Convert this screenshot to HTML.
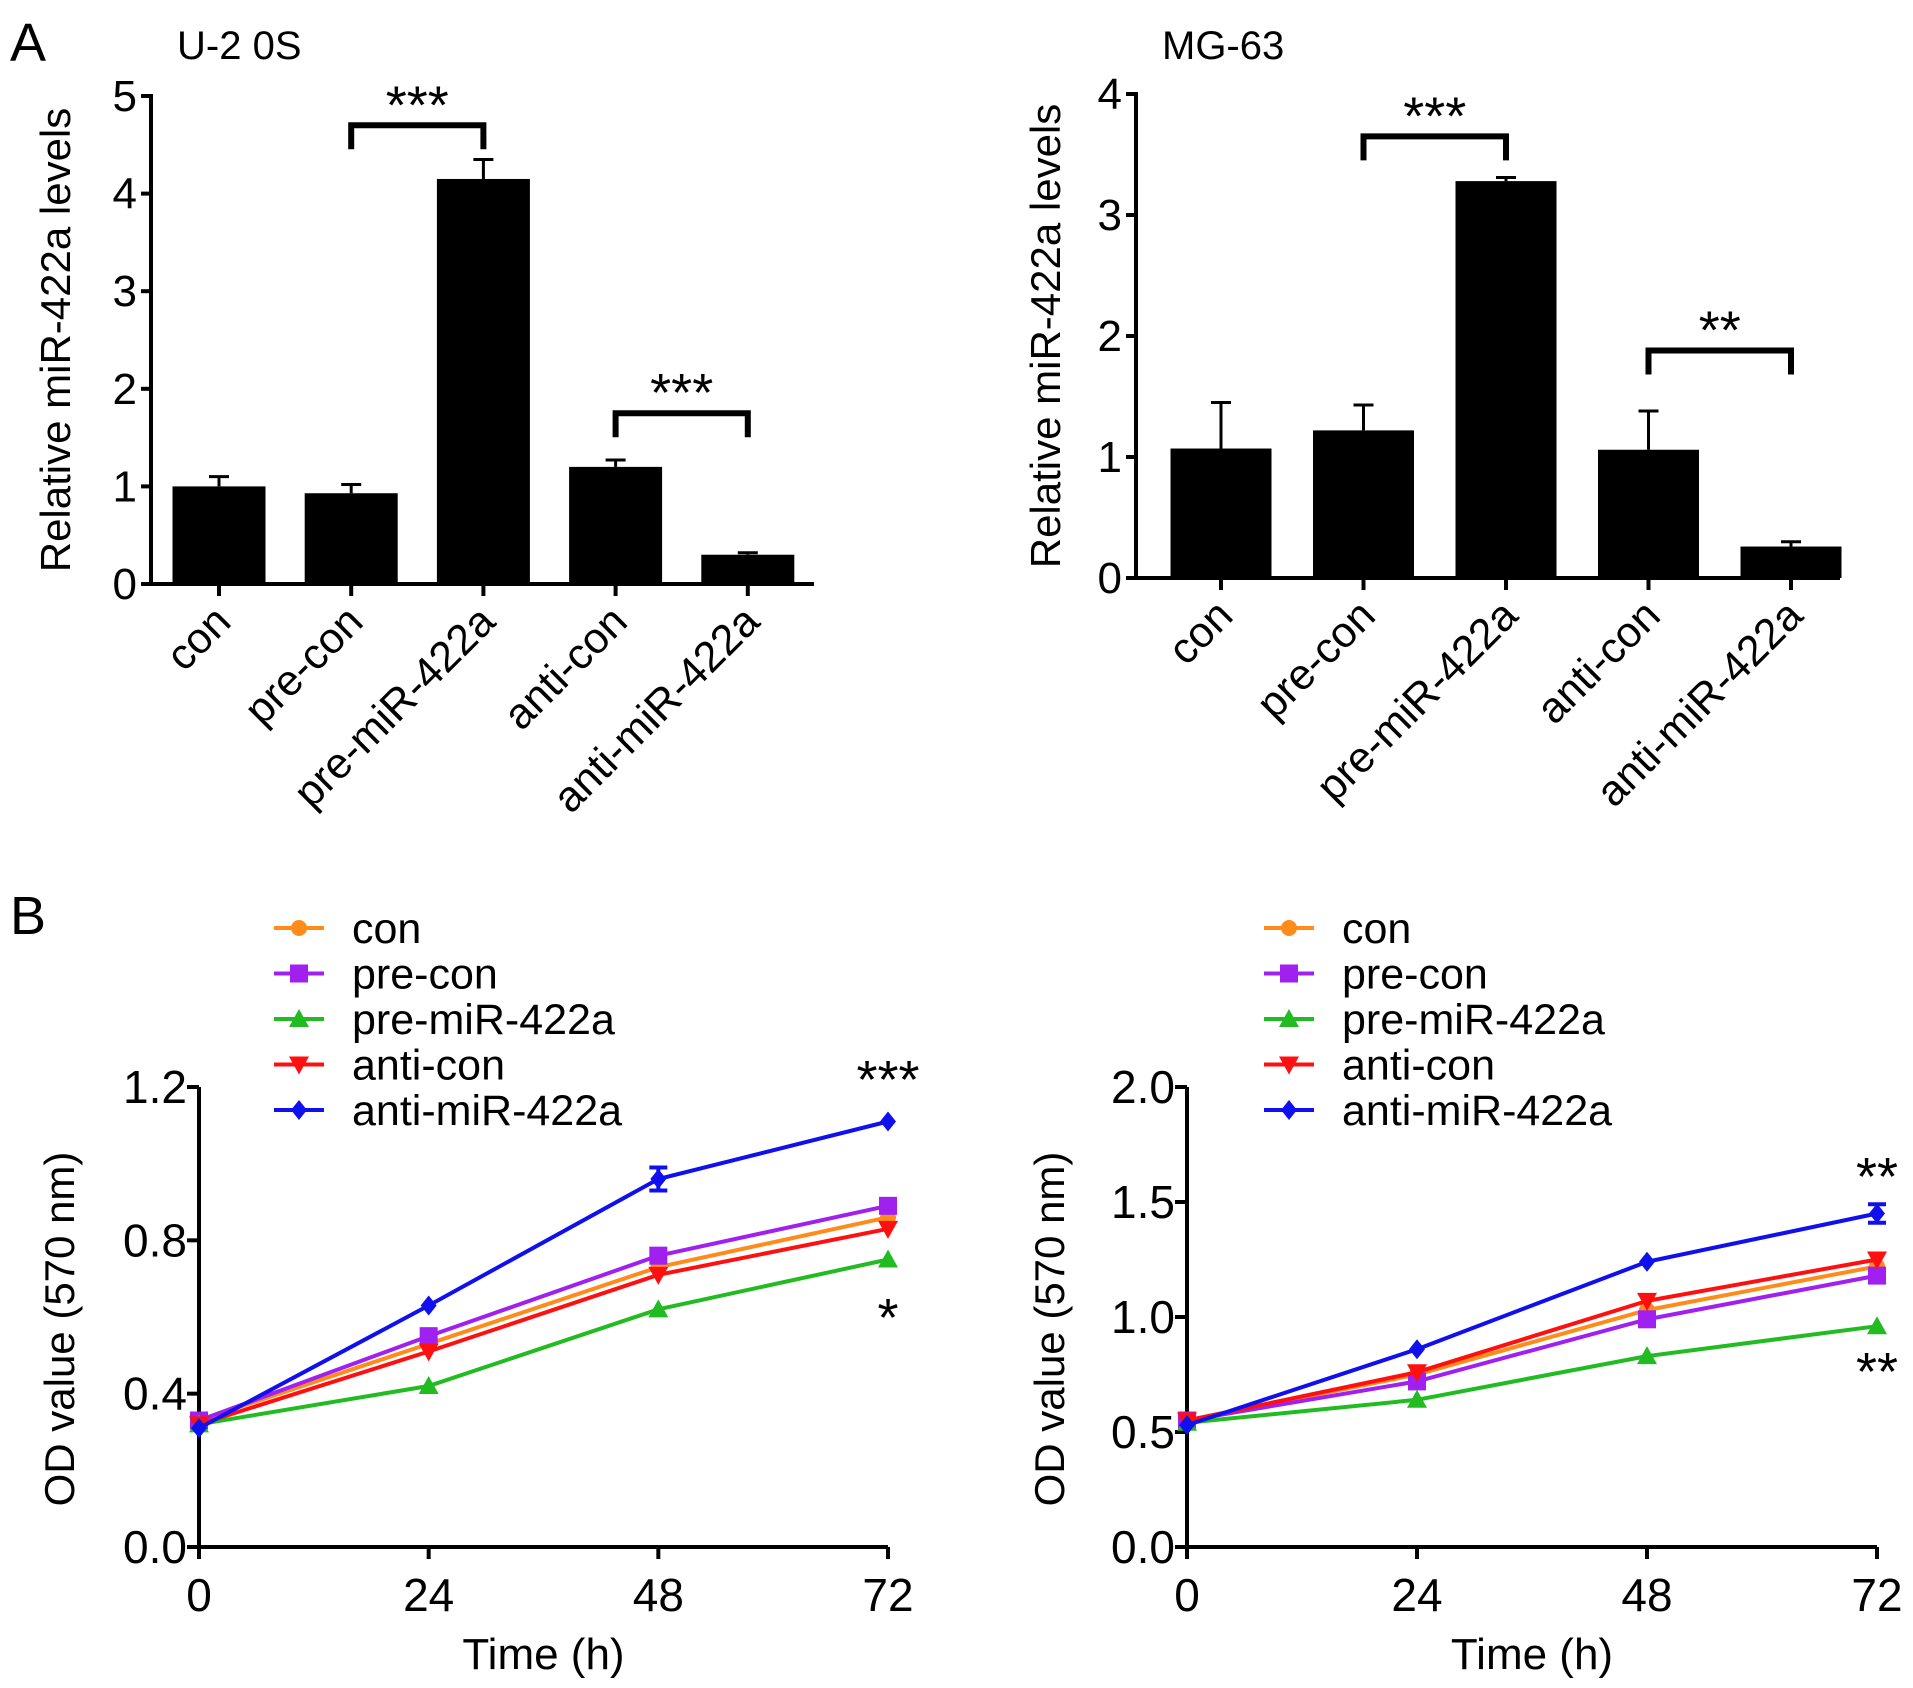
<!DOCTYPE html>
<html><head><meta charset="utf-8">
<style>
html,body{margin:0;padding:0;background:#fff;}
svg{display:block;font-family:"Liberation Sans",Arial,sans-serif;}
</style></head>
<body>
<svg id="fig" width="1913" height="1688" viewBox="0 0 1913 1688" xmlns="http://www.w3.org/2000/svg">
<text x="10" y="61" font-size="54">A</text>
<text x="10" y="934" font-size="54">B</text>
<text x="177" y="59" font-size="40">U-2 0S</text>
<text x="1162" y="59" font-size="40">MG-63</text>
</svg>
<script>
// ---- data ----
const barCategories = ["con","pre-con","pre-miR-422a","anti-con","anti-miR-422a"];
const u2osValues = [1.0, 0.93, 4.15, 1.2, 0.3];
const u2osErrors = [0.1, 0.09, 0.2, 0.07, 0.02];
const mg63Values = [1.07, 1.22, 3.28, 1.06, 0.26];
const mg63Errors = [0.38, 0.21, 0.03, 0.32, 0.04];
const u2osTicks = [0,1,2,3,4,5];
const mg63Ticks = [0,1,2,3,4];
const timePoints = [0,24,48,72];
const seriesNames = ["con","pre-con","pre-miR-422a","anti-con","anti-miR-422a"];
const leftCon = [0.33,0.53,0.73,0.86];
const leftPreCon = [0.33,0.55,0.76,0.89];
const leftPreMiR = [0.32,0.42,0.62,0.75];
const leftAntiCon = [0.32,0.51,0.71,0.83];
const leftAntiMiR = [0.31,0.63,0.96,1.11];
const leftAntiMiRErr = [0.01,0.01,0.03,0.01];
const rightCon = [0.55,0.75,1.03,1.22];
const rightPreCon = [0.55,0.72,0.99,1.18];
const rightPreMiR = [0.54,0.64,0.83,0.96];
const rightAntiCon = [0.55,0.76,1.07,1.25];
const rightAntiMiR = [0.53,0.86,1.24,1.45];
const rightAntiMiRErr = [0.01,0.01,0.01,0.04];
const leftYTicks = ["0.0","0.4","0.8","1.2"];
const rightYTicks = ["0.0","0.5","1.0","1.5","2.0"];

const NS="http://www.w3.org/2000/svg";
const svg=document.getElementById('fig');
function el(tag,attrs,parent){const e=document.createElementNS(NS,tag);for(const k in attrs)e.setAttribute(k,attrs[k]);(parent||svg).appendChild(e);return e;}
function txt(x,y,s,size,anchor,parent){const t=el('text',{x:x,y:y,'font-size':size,'text-anchor':anchor||'start'},parent);t.textContent=s;return t;}

function barChart(name,x0,x1,firstX,step,y0,yTop,maxV,ticks,vals,errs,barW,yTitleX,brackets){
  const g=el('g',{});
  
  
  const ys=v=>y0-(v/maxV)*(y0-yTop);
  const xs=i=>firstX+step*i;
  vals.forEach((v,i)=>{
    const r=el('rect',{x:xs(i)-barW/2,y:ys(v),width:barW,height:y0-ys(v),fill:'#000'},g);
    
    
    const e=el('path',{d:`M${xs(i)} ${ys(v)} V${ys(v+errs[i])} M${xs(i)-10} ${ys(v+errs[i])} H${xs(i)+10}`,stroke:'#000','stroke-width':3,fill:'none'},g);
    
    
  });
  el('path',{d:`M${x0} ${yTop-2} V${y0} H${x1}`,stroke:'#000','stroke-width':4,fill:'none'},g);
  ticks.forEach(t=>{
    el('line',{x1:x0-10,x2:x0,y1:ys(t),y2:ys(t),stroke:'#000','stroke-width':4},g);
    const l=txt(x0-14,ys(t)+15,String(t),44,'end',g);
    
    
  });
  barCategories.forEach((c,i)=>{
    el('line',{x1:xs(i),x2:xs(i),y1:y0,y2:y0+12,stroke:'#000','stroke-width':4},g);
    const l=txt(0,0,c,43,'end',g);
    l.setAttribute('transform',`translate(${xs(i)+14},${y0+40}) rotate(-45)`);
    
    
  });
  const yt=txt(0,0,'Relative miR-422a levels',42,'middle',g);
  yt.setAttribute('transform',`translate(${yTitleX},${(y0+yTop)/2}) rotate(-90)`);
  
  
  brackets.forEach(b=>{
    const a=xs(b.i), c=xs(b.j), top=ys(b.level);
    el('path',{d:`M${a} ${top+24} V${top} H${c} V${top+24}`,stroke:'#000','stroke-width':6,fill:'none'},g);
    const s=txt((a+c)/2,top-2,b.label,54,'middle',g);
    
    
  });
}
barChart('bar-chart-u2os',151,814,219,132.2,584,96,5,u2osTicks,u2osValues,u2osErrors,93,70,
  [{i:1,j:2,level:4.7,label:'***'},{i:3,j:4,level:1.75,label:'***'}]);
barChart('bar-chart-mg63',1136,1840,1221,142.5,578,94,4,mg63Ticks,mg63Values,mg63Errors,101,1060,
  [{i:1,j:2,level:3.65,label:'***'},{i:3,j:4,level:1.88,label:'**'}]);

const colors=['#ff8c1a','#a020f0','#22bb22','#ff1010','#1010ee'];
function marker(g,k,x,y,c){
  let m;
  if(k===0) m=el('circle',{cx:x,cy:y,r:8,fill:c},g);
  else if(k===1) m=el('rect',{x:x-9,y:y-9,width:18,height:18,fill:c},g);
  else if(k===2) m=el('path',{d:`M${x} ${y-10} L${x+10} ${y+8} L${x-10} ${y+8}Z`,fill:c},g);
  else if(k===3) m=el('path',{d:`M${x} ${y+10} L${x+10} ${y-8} L${x-10} ${y-8}Z`,fill:c},g);
  else m=el('path',{d:`M${x} ${y-10} L${x+8} ${y} L${x} ${y+10} L${x-8} ${y}Z`,fill:c},g);
  return m;
}
function lineChart(name,x0,x1,y0,yTop,maxV,ticks,series,errTop,legX,yTitleX,stars){
  const g=el('g',{});
  
  
  const xs=t=>x0+(t/72)*(x1-x0);
  const ys=v=>y0-(v/maxV)*(y0-yTop);
  el('path',{d:`M${x0} ${yTop} V${y0} H${x1}`,stroke:'#000','stroke-width':4,fill:'none'},g);
  ticks.forEach((t,i)=>{
    const v=maxV*i/(ticks.length-1);
    el('line',{x1:x0-12,x2:x0,y1:ys(v),y2:ys(v),stroke:'#000','stroke-width':4},g);
    const l=txt(x0-12,ys(v)+16,t,46,'end',g);
    
    
  });
  timePoints.forEach(t=>{
    el('line',{x1:xs(t),x2:xs(t),y1:y0,y2:y0+12,stroke:'#000','stroke-width':4},g);
    const l=txt(xs(t),y0+64,String(t),46,'middle',g);
    
    
  });
  const xt=txt((x0+x1)/2,y0+122,'Time (h)',44,'middle',g);
  
  
  const yt=txt(0,0,'OD value (570 nm)',42,'middle',g);
  yt.setAttribute('transform',`translate(${yTitleX},${(y0+yTop)/2+12}) rotate(-90)`);
  
  
  series.forEach((vals,k)=>{
    const pts=vals.map((v,i)=>xs(timePoints[i])+','+ys(v)).join(' ');
    const pl=el('polyline',{points:pts,fill:'none',stroke:colors[k],'stroke-width':4},g);
    
    
    vals.forEach((v,i)=>{
      const m=marker(g,k,xs(timePoints[i]),ys(v),colors[k]);
      
      
    });
  });
  const blue=series[4];
  blue.forEach((v,i)=>{
    const e=errTop[i]; if(e<0.02) return;
    const x=xs(timePoints[i]);
    const eb=el('path',{d:`M${x} ${ys(v-e)} V${ys(v+e)} M${x-9} ${ys(v-e)} H${x+9} M${x-9} ${ys(v+e)} H${x+9}`,stroke:colors[4],'stroke-width':4,fill:'none'},g);
    
    
  });
  seriesNames.forEach((s,k)=>{
    const y=928+k*45.5;
    const lg=el('g',{},g);
    
    
    el('line',{x1:legX,x2:legX+50,y1:y,y2:y,stroke:colors[k],'stroke-width':4},lg);
    marker(lg,k,legX+25,y,colors[k]);
    txt(legX+78,y+15,s,43,'start',lg);
  });
  stars.forEach(s=>{
    const t=txt(xs(72),s.y,s.label,54,'middle',g);
    
    
  });
}
lineChart('line-chart-left',199,888,1547,1087,1.2,leftYTicks,
  [leftCon,leftPreCon,leftPreMiR,leftAntiCon,leftAntiMiR],leftAntiMiRErr,274,74,
  [{y:1098,label:'***'},{y:1336,label:'*'}]);
lineChart('line-chart-right',1187,1877,1547,1087,2.0,rightYTicks,
  [rightCon,rightPreCon,rightPreMiR,rightAntiCon,rightAntiMiR],rightAntiMiRErr,1264,1064,
  [{y:1195,label:'**'},{y:1390,label:'**'}]);
</script>
</body></html>
